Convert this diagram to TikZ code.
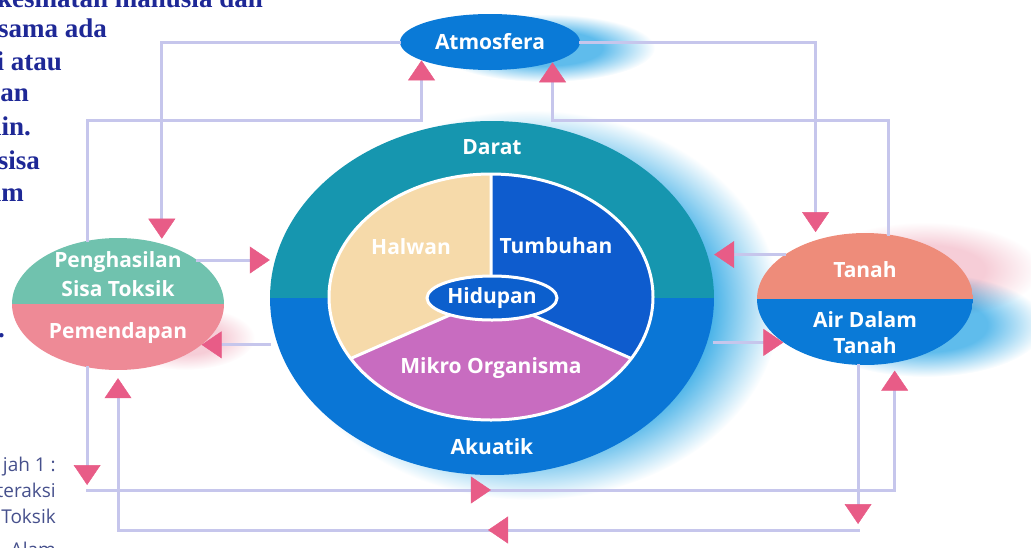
\documentclass[tikz,border=0pt]{standalone}
\usepackage{fontspec}
\setmainfont{Open Sans}
\newfontfamily\bookfont{Liberation Serif}
\usetikzlibrary{shapes.geometric,arrows.meta,decorations.markings}

\definecolor{lineclr}{RGB}{198,198,236}
\definecolor{tipclr}{RGB}{232,92,135}
\definecolor{atmclr}{RGB}{10,122,215}
\definecolor{daratclr}{RGB}{22,150,175}
\definecolor{akuatikclr}{RGB}{10,118,214}
\definecolor{halwanclr}{RGB}{246,218,170}
\definecolor{tumbuhanclr}{RGB}{14,92,206}
\definecolor{mikroclr}{RGB}{200,108,192}
\definecolor{hidupanclr}{RGB}{12,95,205}
\definecolor{sisaclr}{RGB}{112,194,174}
\definecolor{endapclr}{RGB}{238,138,150}
\definecolor{tanahclr}{RGB}{238,140,122}
\definecolor{airclr}{RGB}{10,122,215}
\definecolor{bookclr}{RGB}{30,40,150}
\definecolor{capclr}{RGB}{70,80,140}
\definecolor{glowblue}{RGB}{40,165,228}
\definecolor{glowlight}{RGB}{95,188,236}
\definecolor{glowpink}{RGB}{246,205,215}

\pgfdeclareradialshading{blueglow}{\pgfpointorigin}{color(0bp)=(glowblue); color(17bp)=(glowblue); color(25bp)=(white); color(50bp)=(white)}
\pgfdeclareradialshading{lightglow}{\pgfpointorigin}{color(0bp)=(glowlight); color(13bp)=(glowlight); color(25bp)=(white); color(50bp)=(white)}
\pgfdeclareradialshading{pinkglow}{\pgfpointorigin}{color(0bp)=(glowpink); color(13bp)=(glowpink); color(25bp)=(white); color(50bp)=(white)}

\begin{document}
\begin{tikzpicture}[x=1pt,y=1pt,
    conn/.style={draw=lineclr,line width=3pt,line cap=rect},
    flowtip/.style={-{Triangle[width=27pt,length=20pt,color=tipclr,line width=0.5pt]}},
    midtip/.style={postaction={decorate},decoration={markings,
        mark=at position 0.5 with {\arrow{Triangle[width=27pt,length=20pt,color=tipclr,line width=0.5pt]}}}},
    lbl/.style={text=white,font=\bfseries\fontsize{21}{24}\selectfont,inner sep=0pt},
    blob/.style={ellipse,inner sep=0pt},
    booktxt/.style={anchor=base east,text=bookclr,inner sep=0pt,font=\bookfont\bfseries\fontsize{27}{30}\selectfont},
    captxt/.style={anchor=base east,text=capclr,inner sep=0pt,font=\fontsize{19}{22}\selectfont}]
\useasboundingbox (0,0) rectangle (1031,-547);
\begin{scope}
\clip (0,0) rectangle (1031,-547);

\begin{scope}[blend mode=multiply]
    \shade[shading=blueglow] (530,-305) ellipse [x radius=250, y radius=195];
    \shade[shading=lightglow] (545,-48) ellipse [x radius=110, y radius=34];
    \shade[shading=pinkglow] (925,-270) ellipse [x radius=115, y radius=48];
    \shade[shading=lightglow] (925,-325) ellipse [x radius=120, y radius=52];
    \shade[shading=pinkglow] (185,-338) ellipse [x radius=70, y radius=32];
\end{scope}

\node[blob,minimum width=444,minimum height=354] (env) at (492,-298) {};
\begin{scope}
    \clip (env.center) ellipse [x radius=222, y radius=177];
    \fill[daratclr] (270,-121) rectangle (714,-298);
    \fill[akuatikclr] (270,-298) rectangle (714,-475);
\end{scope}
\coordinate (mid) at (491,-297);
\fill[halwanclr] (mid) -- ++(90:162 and 123) arc[start angle=90,end angle=210,x radius=162,y radius=123] -- cycle;
\fill[mikroclr] (mid) -- ++(210:162 and 123) arc[start angle=210,end angle=330,x radius=162,y radius=123] -- cycle;
\fill[tumbuhanclr] (mid) -- ++(330:162 and 123) arc[start angle=330,end angle=450,x radius=162,y radius=123] -- cycle;
\draw[white,line width=3pt] (mid) -- ++(90:162 and 123) (mid) -- ++(210:162 and 123) (mid) -- ++(330:162 and 123);
\draw[white,line width=3pt] (mid) ellipse [x radius=162, y radius=123];
\node[blob,fill=hidupanclr,draw=white,line width=3pt,minimum width=130,minimum height=44,lbl] (hid) at (492,-298) {Hidupan};
\node[lbl] (darat) at (492,-147) {Darat};
\node[lbl] (akuatik) at (492,-447) {Akuatik};
\node[lbl] (halwan) at (411,-247) {Halwan};
\node[lbl] (tumbuhan) at (556,-246) {Tumbuhan};
\node[lbl] (mikro) at (491,-368) {Mikro Organisma};

\node[blob,fill=atmclr,minimum width=180,minimum height=56,lbl] (atm) at (490,-42) {Atmosfera};

\node[blob,minimum width=212,minimum height=132] (pen) at (118,-304) {};
\begin{scope}
    \clip (pen.center) ellipse [x radius=106, y radius=66];
    \fill[sisaclr] (12,-238) rectangle (224,-304);
    \fill[endapclr] (12,-304) rectangle (224,-370);
\end{scope}
\node[lbl] (sisa1) at (118,-262) {Penghasilan};
\node[lbl] (sisa2) at (118,-289) {Sisa Toksik};
\node[lbl] (endap) at (118,-333) {Pemendapan};

\node[blob,minimum width=216,minimum height=132] (tan) at (865,-299) {};
\begin{scope}
    \clip (tan.center) ellipse [x radius=108, y radius=66];
    \fill[tanahclr] (757,-233) rectangle (973,-299);
    \fill[airclr] (757,-299) rectangle (973,-365);
\end{scope}
\node[lbl] (tanah) at (865,-270) {Tanah};
\node[lbl] (air1) at (865,-320) {Air Dalam};
\node[lbl] (air2) at (865,-346) {Tanah};

\coordinate (rowt) at (0,-120);
\coordinate (rowa) at (0,-490);
\coordinate (rowb) at (0,-530);

\draw[conn,flowtip,shorten >=5pt] (atm.west) -| (pen.54);
\draw[conn,flowtip] (pen.116) |- (rowt -| atm.195) -- (atm.195);
\draw[conn,flowtip,shorten >=8pt] (atm.east) -| (tan.130);
\draw[conn,flowtip] (tan.70) |- (rowt -| atm.342) -- (atm.342);

\draw[conn,flowtip] (pen.29) -- (pen.29 -| env.west);
\draw[conn,flowtip] (env.west |- pen.334) -- (pen.334);
\draw[conn,flowtip] (tan.151) -- (tan.151 -| env.east);
\draw[conn,flowtip] (env.east |- tan.208) -- (tan.208);

\draw[conn,flowtip,shorten >=5pt] (pen.244) -- (pen.244 |- rowa);
\draw[conn,midtip] (pen.244 |- rowa) -- (tan.295 |- rowa);
\draw[conn,flowtip,shorten >=8pt] (tan.295 |- rowa) -- (tan.295);
\draw[conn,flowtip,shorten >=6pt] (tan.264) -- (tan.264 |- rowb);
\draw[conn,midtip] (tan.264 |- rowb) -- (pen.south |- rowb);
\draw[conn,flowtip,shorten >=8pt] (pen.south |- rowb) -- (pen.south);

\node[booktxt] (pg1) at (263,-7) {kesihatan manusia dan};
\node[booktxt] (pg2) at (107,-37) {sama ada};
\node[booktxt] (pg3) at (62,-70) {i atau};
\node[booktxt] (pg4) at (29,-101) {gan};
\node[booktxt] (pg5) at (31,-135) {ain.};
\node[booktxt] (pg6) at (40,-169) {sisa};
\node[booktxt] (pg7) at (24,-201) {am};
\node[booktxt] (pg8) at (5,-337) {.};

\node[captxt] (cap1) at (56,-471) {jah 1 :};
\node[captxt] (cap2) at (56,-497) {teraksi};
\node[captxt] (cap3) at (56,-523) {Toksik};
\node[captxt] (cap4) at (56,-556) {Alam};
\end{scope}
\end{tikzpicture}
\end{document}
